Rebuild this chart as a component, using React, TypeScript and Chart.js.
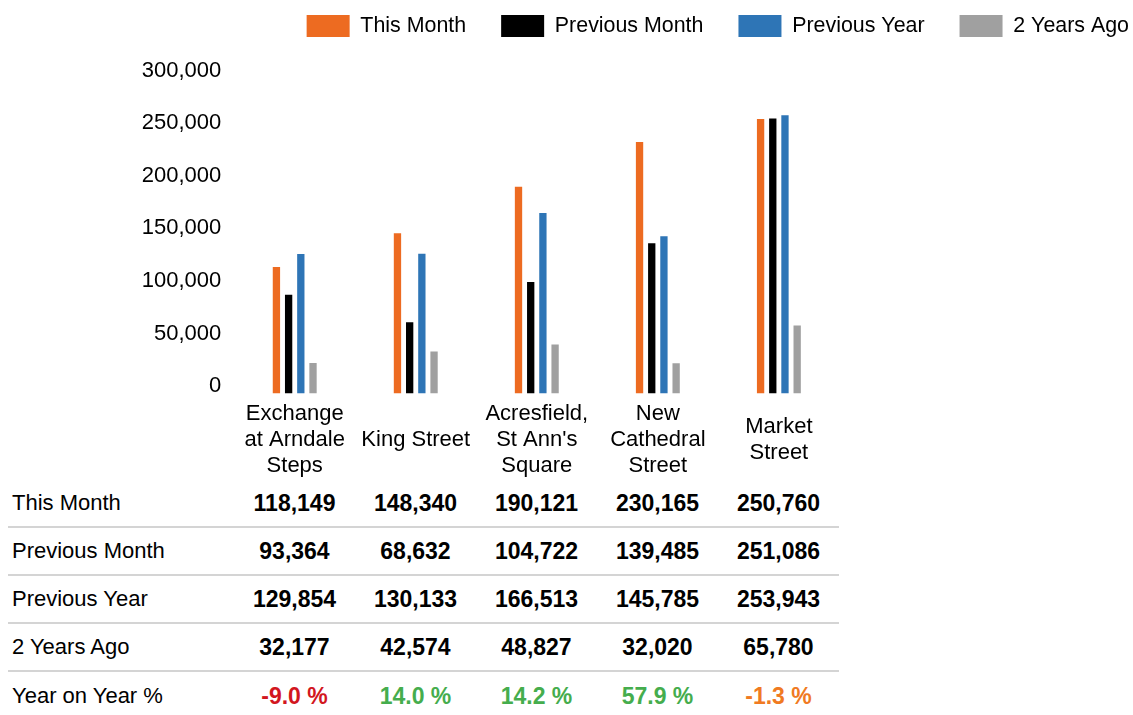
import React, { useEffect, useRef } from "react";
import { Chart, registerables } from "chart.js";

Chart.register(...registerables);

// ---- data ----
const categories: string[][] = [
  ["Exchange", "at Arndale", "Steps"],
  ["King Street"],
  ["Acresfield,", "St Ann's", "Square"],
  ["New", "Cathedral", "Street"],
  ["Market", "Street"],
];
const seriesNames = ["This Month", "Previous Month", "Previous Year", "2 Years Ago"];
const thisMonth = [118149, 148340, 190121, 230165, 250760];
const previousMonth = [93364, 68632, 104722, 139485, 251086];
const previousYear = [129854, 130133, 166513, 145785, 253943];
const twoYearsAgo = [32177, 42574, 48827, 32020, 65780];
const yearOnYear = [-9.0, 14.0, 14.2, 57.9, -1.3];
const yTicks = [0, 50000, 100000, 150000, 200000, 250000, 300000];

// ---- styles ----
const FONT = "'Liberation Sans', Arial, sans-serif";
const COLORS = ["#ED6B21", "#000000", "#2E75B6", "#A0A0A0"];

const seriesValues = [thisMonth, previousMonth, previousYear, twoYearsAgo];

function yoyColor(v: number): string {
  if (v < -5) return "#D2161E";
  if (v < 0) return "#F07A22";
  return "#45AD4D";
}

function fmt(v: number): string {
  return v.toLocaleString("en-US");
}

function BarChart() {
  const ref = useRef<HTMLCanvasElement | null>(null);
  useEffect(() => {
    if (!ref.current) return;
    const chart = new Chart(ref.current, {
      type: "bar",
      data: {
        labels: categories,
        datasets: seriesNames.map((name, i) => ({
          label: name,
          data: seriesValues[i],
          backgroundColor: COLORS[i],
          borderWidth: 0,
          yAxisID: "y",
          categoryPercentage: 0.403,
          barPercentage: 0.6,
        })),
      },
      options: {
        animation: false,
        responsive: false,
        devicePixelRatio: 1,
        layout: { padding: 0 },
        plugins: {
          legend: {
            position: "top",
            align: "end",
            labels: {
              boxWidth: 43,
              boxHeight: 22,
              padding: 35,
              color: "#000",
              font: { family: FONT, size: 21.4 },
            },
          },
          tooltip: { enabled: false },
        },
        scales: {
          x: {
            grid: { display: false, drawTicks: false },
            border: { display: false },
            ticks: {
              color: "#000",
              font: { family: FONT, size: 22, lineHeight: 26 / 22 },
              padding: 20.2,
              crossAlign: "center",
              maxRotation: 0,
              minRotation: 0,
              autoSkip: false,
            },
            afterFit: (s: any) => {
              s.height = 86.7;
            },
          },
          y: {
            position: "right",
            min: 5103,
            max: 315130,
            grid: { display: false, drawTicks: false },
            border: { display: false },
            ticks: { display: false },
            afterFit: (s: any) => {
              s.width = 324.6;
            },
          },
          y2: {
            position: "left",
            min: -6941,
            max: 322550,
            grid: { display: false, drawTicks: false },
            border: { display: false },
            ticks: {
              color: "#000",
              font: { family: FONT, size: 22 },
              padding: 13,
              callback: (v: any) => fmt(Number(v)),
            },
            afterBuildTicks: (s: any) => {
              s.ticks = yTicks.map((v) => ({ value: v }));
            },
            afterFit: (s: any) => {
              s.width = 226.2;
            },
          },
        },
      } as any,
    });
    return () => chart.destroy();
  }, []);
  return (
    <div style={{ position: "relative", width: 1125, height: 472, overflow: "hidden" }}>
      <canvas
        ref={ref}
        width={1156}
        height={500}
        style={{ position: "absolute", left: 0, top: -28, width: 1156, height: 500 }}
      />
    </div>
  );
}

function DataTable() {
  const rows = seriesNames.map((name, i) => ({
    label: name,
    cells: seriesValues[i].map((v) => ({ text: fmt(v), color: "#000" })),
  }));
  rows.push({
    label: "Year on Year %",
    cells: yearOnYear.map((v) => ({ text: v.toFixed(1) + " %", color: yoyColor(v) })),
  });
  return (
    <div style={{ width: 831, fontFamily: FONT, color: "#000" }}>
      {rows.map((r, ri) => (
        <div
          key={ri}
          style={{
            display: "flex",
            alignItems: "center",
            height: 48,
            boxSizing: "border-box",
            borderBottom: ri < rows.length - 1 ? "2px solid #D4D4D4" : "none",
          }}
        >
          <div style={{ width: 226, paddingLeft: 4, boxSizing: "border-box", fontSize: 22 }}>{r.label}</div>
          {r.cells.map((c, ci) => (
            <div
              key={ci}
              style={{ width: 121, textAlign: "center", fontWeight: 700, fontSize: 23, color: c.color }}
            >
              {c.text}
            </div>
          ))}
        </div>
      ))}
    </div>
  );
}

export default function App() {
  useEffect(() => {
    document.body.style.margin = "0";
    document.body.style.overflow = "hidden";
  }, []);
  return (
    <div style={{ width: 1133, height: 715, padding: 8, boxSizing: "border-box", overflow: "hidden" }}>
      <BarChart />
      <DataTable />
    </div>
  );
}
